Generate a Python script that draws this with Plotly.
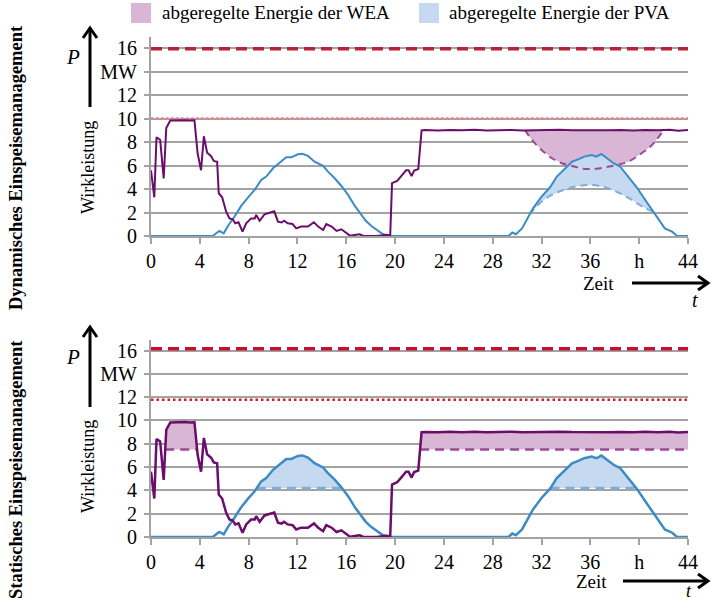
import numpy as np
import plotly.graph_objects as go

# ---------------- data ----------------
wea_t = [0.0, 0.27, 0.45, 0.75, 1.04, 1.25, 1.58, 2.0, 2.4, 2.8, 3.2, 3.56, 3.82, 4.1, 4.33, 4.6, 4.93,
         5.14, 5.42, 5.55, 5.83, 6.16, 6.43, 6.7, 6.9, 7.17, 7.5, 7.8, 8.2, 8.5, 8.62, 8.9, 9.3, 9.7,
         10.1, 10.4, 10.7, 10.9, 11.2, 11.6, 11.9, 12.3, 12.86, 13.35, 13.7, 14.1, 14.36, 14.8, 15.2,
         15.6, 16.0, 16.3, 16.8, 17.1, 17.4, 18.5, 19.3, 19.6, 19.75, 20.17, 20.5, 20.9, 21.1, 21.35,
         21.56, 21.9, 22.17, 22.5, 23.5, 24.5, 25.5, 26.5, 27.5, 28.5, 29.5, 30.5, 31.5, 32.5, 33.5,
         34.5, 35.5, 36.5, 37.5, 38.5, 39.5, 40.5, 41.5, 42.5, 43.2, 44.0]
wea_p = [5.6, 3.3, 8.4, 8.2, 4.9, 9.2, 9.83, 9.85, 9.82, 9.86, 9.83, 9.85, 7.05, 5.6, 8.5, 7.1, 6.8,
         6.4, 6.33, 3.64, 3.3, 2.07, 1.5, 1.42, 1.08, 1.17, 0.37, 1.08, 1.5, 1.5, 1.79, 1.3, 1.85, 2.0,
         2.1, 1.22, 1.15, 1.3, 1.08, 1.02, 0.65, 0.8, 0.8, 1.17, 0.8, 0.5, 1.02, 0.8, 0.43,
         0.57, 0.23, 0.03, 0.1, 0.14, 0.0, 0.0, 0.1, 0.05, 4.5, 4.7, 5.1, 5.6, 5.6, 5.1,
         5.57, 5.7, 9.0, 9.02, 8.98, 9.03, 9.0, 9.04, 8.99, 9.01, 9.03, 8.98, 9.02, 9.0, 9.04,
         9.01, 8.99, 9.03, 9.0, 9.02, 8.98, 9.03, 9.0, 9.04, 8.97, 9.02]

pv_t = [0.0, 5.06, 5.42, 5.6, 5.96, 6.3, 6.84, 7.39, 7.94, 8.49, 9.03, 9.44, 10.0, 10.5, 11.08, 11.5,
        12.04, 12.4, 12.86, 13.4, 14.1, 14.5, 15.05, 15.6, 16.15, 16.7, 17.2, 17.6, 18.06, 18.5,
        18.9, 19.4, 29.3, 29.6, 29.9, 30.4, 30.9, 31.3, 32.0, 32.7, 33.25, 33.94, 34.5, 35.0, 35.5,
        36.1, 36.5, 36.9, 37.35, 37.9, 38.45, 39.1, 39.8, 40.5, 41.05, 41.6, 42.1, 42.7, 43.1, 44.0]
pv_p = [0.0, 0.0, 0.3, 0.43, 0.23, 0.85, 1.65, 2.56, 3.27, 3.92, 4.77, 5.06, 5.77, 6.2, 6.7, 6.7,
        6.96, 7.0, 6.82, 6.33, 5.97, 5.48, 4.92, 4.26, 3.5, 2.56, 1.9, 1.3, 0.85, 0.5,
        0.23, 0.0, 0.0, 0.3, 0.15, 0.65, 1.65, 2.36, 3.35, 4.15, 5.06, 5.77, 6.33, 6.53, 6.76,
        6.9, 6.76, 6.99, 6.6, 6.2, 5.9, 5.06, 4.15, 3.07, 2.2, 1.36, 0.65, 0.37, 0.0, 0.0]

# dynamic feed-in management: curtailed set-points
dyn_wea_t = [30.65, 31.2, 32.0, 32.85, 33.66, 34.2, 34.75, 35.3, 35.85, 36.5, 37.2, 38.04, 39.1,
             40.2, 40.9, 41.3, 42.0]
dyn_wea_lim = [9.02, 8.2, 7.33, 6.62, 6.2, 6.05, 5.9, 5.75, 5.7, 5.72, 5.85, 6.02, 6.33,
               7.05, 7.6, 8.04, 9.0]
dyn_pv_t = [31.0, 31.34, 32.0, 32.84, 33.93, 35.0, 36.1, 37.2, 38.3, 39.4, 40.5, 41.1]
dyn_pv_lim = [1.85, 2.2, 2.93, 3.5, 3.98, 4.26, 4.35, 4.15, 3.7, 3.07, 2.36, 2.1]

# static feed-in management: fixed limits
static_wea_lim = 7.5
static_pv_lim = 4.2

# reference lines (installed capacity, grid limit)
cap_dyn, grid_dyn = 15.95, 10.0
cap_stat, grid_stat = 16.15, 11.77

x_range = [0, 44]
x_tickvals = [0, 4, 8, 12, 16, 20, 24, 28, 32, 36, 40, 44]
x_ticktext = ["0", "4", "8", "12", "16", "20", "24", "28", "32", "36", "h", "44"]
y_tickvals = [0, 2, 4, 6, 8, 10, 12, 14, 16]
y_ticktext = ["0", "2", "4", "6", "8", "10", "12", "MW", "16"]

legend_labels = ["abgeregelte Energie der WEA", "abgeregelte Energie der PVA"]
row_labels = ["Dynamisches Einspeisemanagement", "Statisches Einspeisemanagement"]

# ---------------- styles ----------------
FONT = "'Liberation Serif', 'Times New Roman', Times, serif"
C_WEA = "#6b0d6b"
C_PV = "#3b8bc4"
C_WEA_FILL = "#dab6d6"
C_PV_FILL = "#c5d9f0"
C_WEA_DASH = "#9c4a97"
C_PV_DASH = "#7aaedb"
C_CAP = "#b8203c"
C_GRID_DYN = "#f27f8c"
C_GRID_STAT = "#e3161b"
C_AX = "#a3a3a3"

W, H = 711, 605
ML, MR, MT, MB = 151, 23, 37, 68
PW, PH = W - ML - MR, H - MT - MB


def px(xp):
    return (xp - ML) / PW


def py(yp):
    return (H - MB - yp) / PH


fig = go.Figure()


def above_polys(t, p, lim, min_dur=1.0):
    t = np.asarray(t, float)
    p = np.asarray(p, float)
    polys, cur = [], None
    for i in range(len(t)):
        if p[i] > lim:
            if cur is None:
                if i > 0:
                    tc = t[i - 1] + (lim - p[i - 1]) * (t[i] - t[i - 1]) / (p[i] - p[i - 1])
                else:
                    tc = t[0]
                cur = ([tc], [lim])
            cur[0].append(t[i])
            cur[1].append(p[i])
        elif cur is not None:
            tc = t[i - 1] + (lim - p[i - 1]) * (t[i] - t[i - 1]) / (p[i] - p[i - 1])
            cur[0].append(tc)
            cur[1].append(lim)
            polys.append(cur)
            cur = None
    if cur is not None:
        cur[0].append(t[-1])
        cur[1].append(lim)
        polys.append(cur)
    return [q for q in polys if q[0][-1] - q[0][0] >= min_dur]


def band(t, p, lt, lv):
    t = np.asarray(t, float)
    p = np.asarray(p, float)
    t0, t1 = lt[0], lt[-1]
    m = (t > t0) & (t < t1)
    xs = [t0] + list(t[m]) + [t1] + list(lt[::-1])
    ys = [float(np.interp(t0, t, p))] + list(p[m]) + [float(np.interp(t1, t, p))] + list(lv[::-1])
    return xs, ys


def hline(val, color, dash, width, xa, ya):
    fig.add_trace(go.Scatter(x=x_range, y=[val, val], mode="lines",
                             line=dict(color=color, width=width, dash=dash),
                             xaxis=xa, yaxis=ya, showlegend=False, hoverinfo="skip"))


# ---- top panel (dynamic) ----
xs, ys = band(wea_t, wea_p, dyn_wea_t, dyn_wea_lim)
fig.add_trace(go.Scatter(x=xs, y=ys, fill="toself", fillcolor=C_WEA_FILL, mode="none",
                         xaxis="x", yaxis="y", showlegend=False, hoverinfo="skip"))
xs, ys = band(pv_t, pv_p, dyn_pv_t, dyn_pv_lim)
fig.add_trace(go.Scatter(x=xs, y=ys, fill="toself", fillcolor=C_PV_FILL, mode="none",
                         xaxis="x", yaxis="y", showlegend=False, hoverinfo="skip"))
fig.add_trace(go.Scatter(x=dyn_wea_t, y=dyn_wea_lim, mode="lines", line=dict(color=C_WEA_DASH, width=2, dash="7px,5px", shape="spline"),
                         xaxis="x", yaxis="y", showlegend=False))
fig.add_trace(go.Scatter(x=dyn_pv_t, y=dyn_pv_lim, mode="lines", line=dict(color=C_PV_DASH, width=2, dash="7px,5px", shape="spline"),
                         xaxis="x", yaxis="y", showlegend=False))
hline(cap_dyn, C_CAP, "11px,6px", 3.5, "x", "y")
hline(grid_dyn, C_GRID_DYN, "2.5px,2.5px", 2.5, "x", "y")
fig.add_trace(go.Scatter(x=pv_t, y=pv_p, mode="lines", line=dict(color=C_PV, width=2),
                         xaxis="x", yaxis="y", showlegend=False))
fig.add_trace(go.Scatter(x=wea_t, y=wea_p, mode="lines", line=dict(color=C_WEA, width=2),
                         xaxis="x", yaxis="y", showlegend=False))

# ---- bottom panel (static) ----
for q in above_polys(wea_t, wea_p, static_wea_lim):
    fig.add_trace(go.Scatter(x=q[0], y=q[1], fill="toself", fillcolor=C_WEA_FILL, mode="none",
                             xaxis="x2", yaxis="y2", showlegend=False, hoverinfo="skip"))
    fig.add_trace(go.Scatter(x=[q[0][0], q[0][-1]], y=[static_wea_lim] * 2, mode="lines",
                             line=dict(color=C_WEA_DASH, width=2.5, dash="9px,6px"),
                             xaxis="x2", yaxis="y2", showlegend=False))
for q in above_polys(pv_t, pv_p, static_pv_lim):
    fig.add_trace(go.Scatter(x=q[0], y=q[1], fill="toself", fillcolor=C_PV_FILL, mode="none",
                             xaxis="x2", yaxis="y2", showlegend=False, hoverinfo="skip"))
    fig.add_trace(go.Scatter(x=[q[0][0], q[0][-1]], y=[static_pv_lim] * 2, mode="lines",
                             line=dict(color=C_PV_DASH, width=2.5, dash="9px,6px"),
                             xaxis="x2", yaxis="y2", showlegend=False))
hline(cap_stat, "#c8102e", "11px,6px", 3.5, "x2", "y2")
hline(grid_stat, C_GRID_STAT, "2.5px,3px", 2.5, "x2", "y2")
fig.add_trace(go.Scatter(x=pv_t, y=pv_p, mode="lines", line=dict(color=C_PV, width=2.5),
                         xaxis="x2", yaxis="y2", showlegend=False))
fig.add_trace(go.Scatter(x=wea_t, y=wea_p, mode="lines", line=dict(color=C_WEA, width=2.5),
                         xaxis="x2", yaxis="y2", showlegend=False))

# ---- axes ----
top_dom = [(H - MB - 236) / PH, 1.0]
bot_dom = [0.0, (H - MB - 339.5) / PH]
tickfont = dict(family=FONT, size=20, color="black")
xcommon = dict(range=x_range, tickmode="array", tickvals=x_tickvals, ticktext=x_ticktext,
               showgrid=False, zeroline=False, showline=True, linecolor=C_AX, linewidth=1.5,
               ticks="outside", ticklen=6, tickcolor=C_AX, tickwidth=1.5, tickfont=tickfont,
               ticklabelstandoff=0, fixedrange=True)
ycommon = dict(range=[0, 16.95], tickmode="array", tickvals=y_tickvals, ticktext=y_ticktext,
               showgrid=True, gridcolor=C_AX, gridwidth=1.5, zeroline=False, showline=True,
               linecolor=C_AX, linewidth=2, ticks="outside", ticklen=5, tickcolor=C_AX,
               tickwidth=1.5, tickfont=tickfont, ticklabelstandoff=3, fixedrange=True)

fig.update_layout(
    width=W, height=H, margin=dict(l=ML, r=MR, t=MT, b=MB),
    paper_bgcolor="white", plot_bgcolor="white", showlegend=False,
    xaxis=dict(domain=[0, 1], anchor="y", **xcommon),
    yaxis=dict(domain=top_dom, anchor="x", **ycommon),
    xaxis2=dict(domain=[0, 1], anchor="y2", **xcommon),
    yaxis2=dict(domain=bot_dom, anchor="x2", **ycommon),
    font=dict(family=FONT, size=19, color="black"),
)

ann = []
shapes = []
# legend
for i, (lab, col, sx, tx) in enumerate(zip(legend_labels, [C_WEA_FILL, C_PV_FILL], [131, 419], [160, 447])):
    shapes.append(dict(type="rect", xref="paper", yref="paper", x0=px(sx), x1=px(sx + 20),
                       y0=py(23), y1=py(3), fillcolor=col, line=dict(width=0)))
    ann.append(dict(text=lab, xref="paper", yref="paper", x=px(tx), y=py(13), xanchor="left",
                    yanchor="middle", showarrow=False, font=dict(family=FONT, size=19)))


def vert_arrow(x, y0, y1):
    shapes.append(dict(type="line", xref="paper", yref="paper", x0=px(x), x1=px(x), y0=py(y0), y1=py(y1 + 1),
                       line=dict(color="black", width=3)))
    shapes.append(dict(type="path", xref="paper", yref="paper",
                       path=f"M {px(x-7)} {py(y1+10)} L {px(x)} {py(y1)} L {px(x+7)} {py(y1+10)}",
                       line=dict(color="black", width=3)))


def horiz_arrow(y, x0, x1):
    shapes.append(dict(type="line", xref="paper", yref="paper", x0=px(x0), x1=px(x1 - 1), y0=py(y), y1=py(y),
                       line=dict(color="black", width=3)))
    shapes.append(dict(type="path", xref="paper", yref="paper",
                       path=f"M {px(x1-10)} {py(y-7)} L {px(x1)} {py(y)} L {px(x1-10)} {py(y+7)}",
                       line=dict(color="black", width=3)))


for (cy, pyy, wy, ay0, ay1, zy, zx, ax0, ty, tx, tsz), rl in zip(
        [(168, 57, 168, 107, 28, 283, 598, 632, 300, 695, 20),
         (470, 357, 467, 407, 327, 581, 591, 623, 591, 689, 18)], row_labels):
    ann.append(dict(text=f"<b>{rl}</b>", xref="paper", yref="paper", x=px(16), y=py(cy),
                    textangle=-90, showarrow=False, xanchor="center", yanchor="middle",
                    font=dict(family=FONT, size=18.5)))
    ann.append(dict(text="<i>P</i>", xref="paper", yref="paper", x=px(73), y=py(pyy),
                    showarrow=False, xanchor="center", yanchor="middle", font=dict(family=FONT, size=21)))
    ann.append(dict(text="Wirkleistung", xref="paper", yref="paper", x=px(88), y=py(wy),
                    textangle=-90, showarrow=False, xanchor="center", yanchor="middle",
                    font=dict(family=FONT, size=18)))
    vert_arrow(90, ay0, ay1)
    ann.append(dict(text="Zeit", xref="paper", yref="paper", x=px(zx), y=py(zy),
                    showarrow=False, xanchor="center", yanchor="middle", font=dict(family=FONT, size=19)))
    horiz_arrow(zy, ax0, 708)
    ann.append(dict(text="<i>t</i>", xref="paper", yref="paper", x=px(tx), y=py(ty),
                    showarrow=False, xanchor="center", yanchor="middle", font=dict(family=FONT, size=tsz)))

fig.update_layout(annotations=ann, shapes=shapes)
fig.write_html("out.html")
